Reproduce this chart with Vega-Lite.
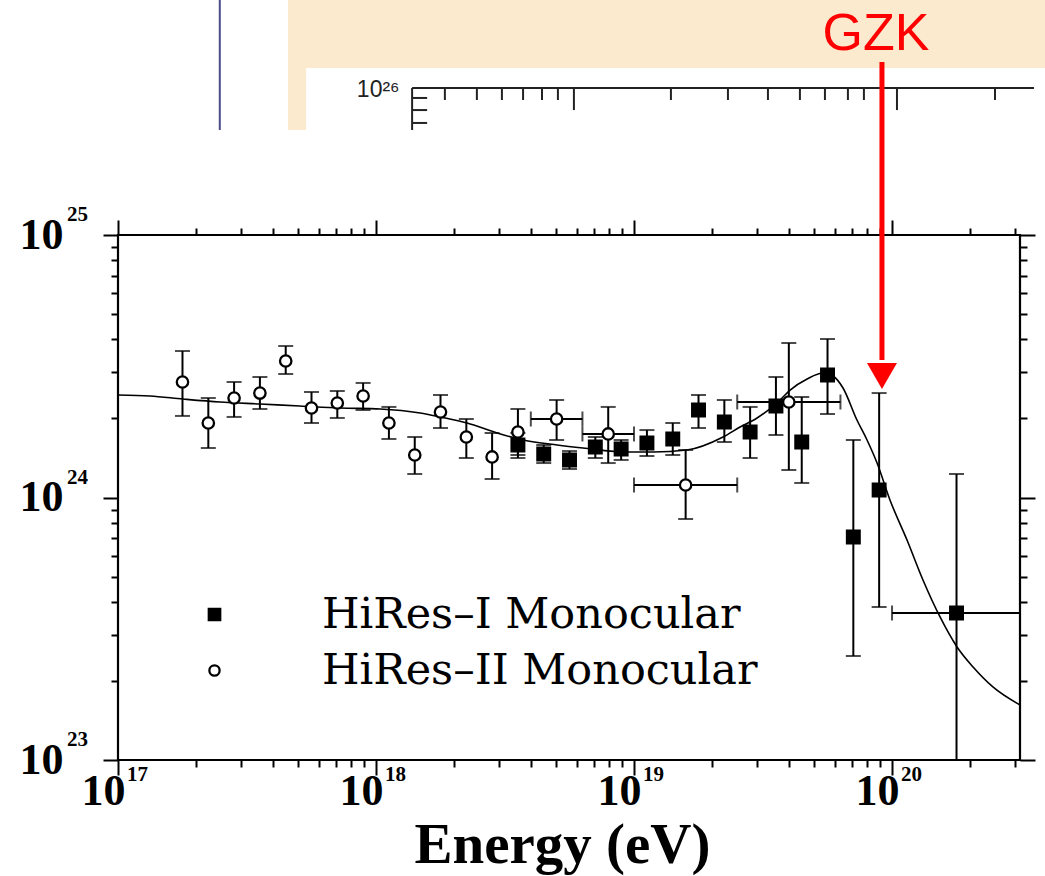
{
  "$schema": "https://vega.github.io/schema/vega-lite/v6.json",
  "width": 902,
  "height": 525,
  "autosize": {"type": "none"},
  "padding": {"left": 118, "top": 235, "right": 25, "bottom": 116},
  "background": "white",
  "datasets": {
    "points": [
      {"series": "HiRes–I Monocular", "E": 3.548e18, "J": 1.585e24, "lo": 1.414e24, "hi": 1.761e24},
      {"series": "HiRes–I Monocular", "E": 4.467e18, "J": 1.465e24, "lo": 1.353e24, "hi": 1.585e24},
      {"series": "HiRes–I Monocular", "E": 5.623e18, "J": 1.390e24, "lo": 1.284e24, "hi": 1.503e24},
      {"series": "HiRes–I Monocular", "E": 7.079e18, "J": 1.557e24, "lo": 1.414e24, "hi": 1.700e24},
      {"series": "HiRes–I Monocular", "E": 8.913e18, "J": 1.530e24, "lo": 1.390e24, "hi": 1.656e24},
      {"series": "HiRes–I Monocular", "E": 1.122e19, "J": 1.613e24, "lo": 1.439e24, "hi": 1.807e24},
      {"series": "HiRes–I Monocular", "E": 1.413e19, "J": 1.671e24, "lo": 1.452e24, "hi": 1.922e24},
      {"series": "HiRes–I Monocular", "E": 1.778e19, "J": 2.154e24, "lo": 1.840e24, "hi": 2.457e24},
      {"series": "HiRes–I Monocular", "E": 2.239e19, "J": 1.939e24, "lo": 1.627e24, "hi": 2.352e24},
      {"series": "HiRes–I Monocular", "E": 2.818e19, "J": 1.776e24, "lo": 1.414e24, "hi": 2.213e24},
      {"series": "HiRes–I Monocular", "E": 3.548e19, "J": 2.232e24, "lo": 1.730e24, "hi": 2.878e24},
      {"series": "HiRes–I Monocular", "E": 4.467e19, "J": 1.627e24, "lo": 1.136e24, "hi": 2.415e24},
      {"series": "HiRes–I Monocular", "E": 5.623e19, "J": 2.929e24, "lo": 2.080e24, "hi": 4.016e24},
      {"series": "HiRes–I Monocular", "E": 7.079e19, "J": 7.071e23, "lo": 2.490e23, "hi": 1.656e24},
      {"series": "HiRes–I Monocular", "E": 8.913e19, "J": 1.068e24, "lo": 3.827e23, "hi": 2.500e24},
      {"series": "HiRes–I Monocular", "E": 1.778e20, "J": 3.631e23, "lo": 1.0e23, "hi": 1.229e24, "xlo": 1.0e20, "xhi": 3.133e20},
      {"series": "HiRes–II Monocular", "E": 1.778e17, "J": 2.754e24, "lo": 2.045e24, "hi": 3.614e24},
      {"series": "HiRes–II Monocular", "E": 2.239e17, "J": 1.922e24, "lo": 1.544e24, "hi": 2.393e24},
      {"series": "HiRes–II Monocular", "E": 2.818e17, "J": 2.393e24, "lo": 2.027e24, "hi": 2.754e24},
      {"series": "HiRes–II Monocular", "E": 3.548e17, "J": 2.500e24, "lo": 2.174e24, "hi": 2.878e24},
      {"series": "HiRes–II Monocular", "E": 4.467e17, "J": 3.311e24, "lo": 2.954e24, "hi": 3.776e24},
      {"series": "HiRes–II Monocular", "E": 5.623e17, "J": 2.193e24, "lo": 1.922e24, "hi": 2.523e24},
      {"series": "HiRes–II Monocular", "E": 7.079e17, "J": 2.291e24, "lo": 2.009e24, "hi": 2.545e24},
      {"series": "HiRes–II Monocular", "E": 8.913e17, "J": 2.436e24, "lo": 2.154e24, "hi": 2.731e24},
      {"series": "HiRes–II Monocular", "E": 1.122e18, "J": 1.922e24, "lo": 1.671e24, "hi": 2.213e24},
      {"series": "HiRes–II Monocular", "E": 1.413e18, "J": 1.452e24, "lo": 1.229e24, "hi": 1.700e24},
      {"series": "HiRes–II Monocular", "E": 1.778e18, "J": 2.117e24, "lo": 1.840e24, "hi": 2.457e24},
      {"series": "HiRes–II Monocular", "E": 2.239e18, "J": 1.700e24, "lo": 1.414e24, "hi": 1.991e24},
      {"series": "HiRes–II Monocular", "E": 2.818e18, "J": 1.427e24, "lo": 1.176e24, "hi": 1.761e24},
      {"series": "HiRes–II Monocular", "E": 3.548e18, "J": 1.776e24, "lo": 1.452e24, "hi": 2.174e24},
      {"series": "HiRes–II Monocular", "E": 5.012e18, "J": 1.991e24, "lo": 1.656e24, "hi": 2.352e24, "xlo": 3.981e18, "xhi": 6.310e18},
      {"series": "HiRes–II Monocular", "E": 7.943e18, "J": 1.746e24, "lo": 1.353e24, "hi": 2.213e24, "xlo": 6.310e18, "xhi": 1.0e19},
      {"series": "HiRes–II Monocular", "E": 1.585e19, "J": 1.116e24, "lo": 8.283e23, "hi": 1.517e24, "xlo": 1.0e19, "xhi": 2.512e19},
      {"series": "HiRes–II Monocular", "E": 3.981e19, "J": 2.311e24, "lo": 1.273e24, "hi": 3.878e24, "xlo": 2.512e19, "xhi": 6.310e19}
    ],
    "curve": [
      {"E": 1.000e17, "J": 2.457e24},
      {"E": 1.330e17, "J": 2.436e24},
      {"E": 1.786e17, "J": 2.372e24},
      {"E": 2.483e17, "J": 2.311e24},
      {"E": 3.548e17, "J": 2.271e24},
      {"E": 5.070e17, "J": 2.232e24},
      {"E": 7.244e17, "J": 2.193e24},
      {"E": 1.038e18, "J": 2.174e24},
      {"E": 1.483e18, "J": 2.098e24},
      {"E": 1.770e18, "J": 2.027e24},
      {"E": 2.254e18, "J": 1.922e24},
      {"E": 2.944e18, "J": 1.761e24},
      {"E": 3.715e18, "J": 1.656e24},
      {"E": 5.035e18, "J": 1.585e24},
      {"E": 6.339e18, "J": 1.544e24},
      {"E": 9.397e18, "J": 1.490e24},
      {"E": 1.186e19, "J": 1.490e24},
      {"E": 1.603e19, "J": 1.517e24},
      {"E": 2.213e19, "J": 1.700e24},
      {"E": 2.576e19, "J": 1.856e24},
      {"E": 2.999e19, "J": 2.009e24},
      {"E": 3.581e19, "J": 2.291e24},
      {"E": 4.027e19, "J": 2.567e24},
      {"E": 4.688e19, "J": 2.828e24},
      {"E": 5.408e19, "J": 2.980e24},
      {"E": 5.902e19, "J": 2.903e24},
      {"E": 6.457e19, "J": 2.613e24},
      {"E": 7.311e19, "J": 1.973e24},
      {"E": 8.000e19, "J": 1.656e24},
      {"E": 8.750e19, "J": 1.353e24},
      {"E": 9.817e19, "J": 9.784e23},
      {"E": 1.143e20, "J": 6.888e23},
      {"E": 1.318e20, "J": 4.850e23},
      {"E": 1.535e20, "J": 3.506e23},
      {"E": 1.786e20, "J": 2.695e23},
      {"E": 2.061e20, "J": 2.261e23},
      {"E": 2.460e20, "J": 1.898e23},
      {"E": 3.133e20, "J": 1.620e23}
    ],
    "gzk": [
      {"E": 9.14e19, "top": 4.56e25, "base": 3.341e24, "head": 2.903e24, "ty": 5.07e25, "label": "GZK"}
    ],
    "xexp": [
      {"E": 1e17, "e": "17"}, {"E": 1e18, "e": "18"}, {"E": 1e19, "e": "19"}, {"E": 1e20, "e": "20"}
    ],
    "yexp": [
      {"J": 1e23, "e": "23"}, {"J": 1e24, "e": "24"}, {"J": 1e25, "e": "25"}
    ],
    "slide": [
      {"part": "parchment", "x1": 4.56e17, "x2": 5e20, "y1": 2.512e25, "y2": 1e26},
      {"part": "panel", "x1": 5.36e17, "x2": 5e20, "y1": 2.512e25, "y2": 4.33e25}
    ],
    "slideLines": [
      {"x1": 2.48e17, "x2": 2.48e17, "y1": 2.512e25, "y2": 1e26, "c": "blue"},
      {"x1": 1.38e18, "x2": 3.55e20, "y1": 3.63e25, "y2": 3.63e25, "c": "frame"},
      {"x1": 1.38e18, "x2": 1.38e18, "y1": 2.512e25, "y2": 3.63e25, "c": "frame"},
      {"x1": 1.38e18, "x2": 1.578e18, "y1": 3.327e25, "y2": 3.327e25, "c": "frame"},
      {"x1": 1.38e18, "x2": 1.578e18, "y1": 2.992e25, "y2": 2.992e25, "c": "frame"},
      {"x1": 1.38e18, "x2": 1.578e18, "y1": 2.672e25, "y2": 2.672e25, "c": "frame"},
      {"x1": 1.849e18, "x2": 1.849e18, "y1": 3.268e25, "y2": 3.63e25, "c": "frame"},
      {"x1": 2.460e18, "x2": 2.460e18, "y1": 3.268e25, "y2": 3.63e25, "c": "frame"},
      {"x1": 3.076e18, "x2": 3.076e18, "y1": 3.268e25, "y2": 3.63e25, "c": "frame"},
      {"x1": 3.715e18, "x2": 3.715e18, "y1": 3.268e25, "y2": 3.63e25, "c": "frame"},
      {"x1": 4.399e18, "x2": 4.399e18, "y1": 3.268e25, "y2": 3.63e25, "c": "frame"},
      {"x1": 5.070e18, "x2": 5.070e18, "y1": 3.268e25, "y2": 3.63e25, "c": "frame"},
      {"x1": 5.848e18, "x2": 5.848e18, "y1": 2.992e25, "y2": 3.63e25, "c": "frame"},
      {"x1": 1.390e19, "x2": 1.390e19, "y1": 3.268e25, "y2": 3.63e25, "c": "frame"},
      {"x1": 2.312e19, "x2": 2.312e19, "y1": 3.268e25, "y2": 3.63e25, "c": "frame"},
      {"x1": 3.304e19, "x2": 3.304e19, "y1": 3.268e25, "y2": 3.63e25, "c": "frame"},
      {"x1": 4.395e19, "x2": 4.395e19, "y1": 3.268e25, "y2": 3.63e25, "c": "frame"},
      {"x1": 5.495e19, "x2": 5.495e19, "y1": 3.268e25, "y2": 3.63e25, "c": "frame"},
      {"x1": 6.745e19, "x2": 6.745e19, "y1": 3.268e25, "y2": 3.63e25, "c": "frame"},
      {"x1": 7.780e19, "x2": 7.780e19, "y1": 3.268e25, "y2": 3.63e25, "c": "frame"},
      {"x1": 1.045e20, "x2": 1.045e20, "y1": 2.992e25, "y2": 3.63e25, "c": "frame"},
      {"x1": 2.506e20, "x2": 2.506e20, "y1": 3.268e25, "y2": 3.63e25, "c": "frame"}
    ],
    "slideText": [
      {"x": 8.43e17, "y": 3.36e25, "t": "10²⁶"}
    ]
  },
  "resolve": {"axis": {"x": "independent", "y": "independent"}},
  "layer": [
    {
      "data": {"name": "slide"},
      "mark": {"type": "rect"},
      "encoding": {
        "x": {"field": "x1", "type": "quantitative", "scale": {"type": "log", "domain": [1e17, 3.133e20], "nice": false}, "axis": null},
        "x2": {"field": "x2"},
        "y": {"field": "y1", "type": "quantitative", "scale": {"type": "log", "domain": [1e23, 1e25], "nice": false}, "axis": null},
        "y2": {"field": "y2"},
        "color": {"field": "part", "type": "nominal", "scale": {"domain": ["parchment", "panel"], "range": ["#fbeacd", "#ffffff"]}, "legend": null}
      }
    },
    {
      "data": {"name": "slideLines"},
      "mark": {"type": "rule", "strokeWidth": 2},
      "encoding": {
        "x": {"field": "x1", "type": "quantitative", "scale": {"type": "log", "domain": [1e17, 3.133e20], "nice": false}, "axis": null},
        "x2": {"field": "x2"},
        "y": {"field": "y1", "type": "quantitative", "scale": {"type": "log", "domain": [1e23, 1e25], "nice": false}, "axis": null},
        "y2": {"field": "y2"},
        "stroke": {"field": "c", "type": "nominal", "scale": {"domain": ["blue", "frame"], "range": ["#4a4a8c", "#222222"]}, "legend": null}
      }
    },
    {
      "data": {"name": "slideText"},
      "mark": {"type": "text", "font": "Liberation Sans", "fontSize": 23, "align": "left", "baseline": "alphabetic", "color": "#222222"},
      "encoding": {
        "x": {"field": "x", "type": "quantitative", "scale": {"type": "log", "domain": [1e17, 3.133e20], "nice": false}, "axis": null},
        "y": {"field": "y", "type": "quantitative", "scale": {"type": "log", "domain": [1e23, 1e25], "nice": false}, "axis": null},
        "text": {"field": "t"}
      }
    },
    {
      "data": {"name": "curve"},
      "mark": {"type": "line", "color": "black", "strokeWidth": 1.6, "interpolate": "monotone"},
      "encoding": {
        "x": {"field": "E", "type": "quantitative", "scale": {"type": "log", "domain": [1e17, 3.133e20], "nice": false},
          "axis": {"orient": "bottom", "values": [1e17, 1e18, 1e19, 1e20], "tickSize": 15,
            "labelExpr": "'10'", "labelOffset": -15,
            "labelFont": "Liberation Serif", "labelFontSize": 44, "labelFontWeight": "bold", "labelColor": "black", "labelPadding": -6,
            "title": "Energy (eV)", "titleFont": "Liberation Serif", "titleFontSize": 57, "titleFontWeight": "bold", "titleColor": "black",
            "titleY": 102, "titleX": 444, "titleAlign": "center", "titleBaseline": "alphabetic"}},
        "y": {"field": "J", "type": "quantitative", "scale": {"type": "log", "domain": [1e23, 1e25], "nice": false},
          "axis": {"orient": "left", "values": [1e23, 1e24, 1e25], "tickSize": 15,
            "labelExpr": "'10'",
            "labelFont": "Liberation Serif", "labelFontSize": 44, "labelFontWeight": "bold", "labelColor": "black", "labelPadding": 40,
            "title": null}}
      }
    },
    {
      "data": {"name": "xexp"},
      "mark": {"type": "text", "font": "Liberation Serif", "fontWeight": "bold", "fontSize": 21, "align": "left", "baseline": "alphabetic", "dx": 9, "dy": 21, "color": "black"},
      "encoding": {
        "x": {"field": "E", "type": "quantitative", "scale": {"type": "log", "domain": [1e17, 3.133e20], "nice": false}, "axis": null},
        "y": {"datum": 1e23, "type": "quantitative", "scale": {"type": "log", "domain": [1e23, 1e25], "nice": false}, "axis": null},
        "text": {"field": "e"}
      }
    },
    {
      "data": {"name": "yexp"},
      "mark": {"type": "text", "font": "Liberation Serif", "fontWeight": "bold", "fontSize": 21, "align": "left", "baseline": "alphabetic", "dx": -51, "dy": -14, "color": "black"},
      "encoding": {
        "x": {"datum": 1e17, "type": "quantitative", "scale": {"type": "log", "domain": [1e17, 3.133e20], "nice": false}, "axis": null},
        "y": {"field": "J", "type": "quantitative", "scale": {"type": "log", "domain": [1e23, 1e25], "nice": false}, "axis": null},
        "text": {"field": "e"}
      }
    },
    {
      "data": {"name": "points"},
      "mark": {"type": "errorbar", "color": "black", "ticks": {"size": 15, "thickness": 2}, "rule": {"strokeWidth": 2}},
      "encoding": {
        "x": {"field": "E", "type": "quantitative", "scale": {"type": "log", "domain": [1e17, 3.133e20], "nice": false}, "axis": null},
        "y": {"field": "lo", "type": "quantitative", "scale": {"type": "log", "domain": [1e23, 1e25], "nice": false}, "axis": null},
        "y2": {"field": "hi"}
      }
    },
    {
      "data": {"name": "points"},
      "transform": [{"filter": "isValid(datum.xlo)"}],
      "mark": {"type": "errorbar", "color": "black", "ticks": {"size": 15, "thickness": 2}, "rule": {"strokeWidth": 2}},
      "encoding": {
        "y": {"field": "J", "type": "quantitative", "scale": {"type": "log", "domain": [1e23, 1e25], "nice": false}, "axis": null},
        "x": {"field": "xlo", "type": "quantitative", "scale": {"type": "log", "domain": [1e17, 3.133e20], "nice": false}, "axis": null},
        "x2": {"field": "xhi"}
      }
    },
    {
      "data": {"name": "points"},
      "mark": {"type": "point", "filled": true, "stroke": "black", "strokeWidth": 2.3, "size": 160, "opacity": 1},
      "encoding": {
        "x": {"field": "E", "type": "quantitative", "scale": {"type": "log", "domain": [1e17, 3.133e20], "nice": false},
          "axis": {"orient": "bottom", "values": [2e17, 3e17, 4e17, 5e17, 6e17, 7e17, 8e17, 9e17, 2e18, 3e18, 4e18, 5e18, 6e18, 7e18, 8e18, 9e18, 2e19, 3e19, 4e19, 5e19, 6e19, 7e19, 8e19, 9e19, 2e20, 3e20], "tickSize": 7, "labels": false, "title": null}},
        "y": {"field": "J", "type": "quantitative", "scale": {"type": "log", "domain": [1e23, 1e25], "nice": false},
          "axis": {"orient": "left", "values": [2e23, 3e23, 4e23, 5e23, 6e23, 7e23, 8e23, 9e23, 2e24, 3e24, 4e24, 5e24, 6e24, 7e24, 8e24, 9e24], "tickSize": 7, "labels": false, "title": null}},
        "shape": {"field": "series", "type": "nominal", "scale": {"domain": ["HiRes–I Monocular", "HiRes–II Monocular"], "range": ["M-1,-1H1V1H-1Z", "M0.9,0A0.9,0.9 0 1,1 -0.9,0A0.9,0.9 0 1,1 0.9,0Z"]},
          "legend": {"title": null, "encode": {"symbols": {"update": {
            "fill": {"signal": "datum.value === 'HiRes–I Monocular' ? '#000000' : '#ffffff'"},
            "fillOpacity": {"value": 1},
            "stroke": {"value": "#000000"},
            "strokeWidth": {"value": 2.3},
            "opacity": {"value": 1}}}}}},
        "fill": {"field": "series", "type": "nominal", "scale": {"domain": ["HiRes–I Monocular", "HiRes–II Monocular"], "range": ["#000000", "#ffffff"]}, "legend": null}
      }
    },
    {
      "data": {"name": "gzk"},
      "mark": {"type": "rule", "color": "#ff0000", "strokeWidth": 5},
      "encoding": {
        "x": {"field": "E", "type": "quantitative", "scale": {"type": "log", "domain": [1e17, 3.133e20], "nice": false},
          "axis": {"orient": "top", "values": [1e17, 1e18, 1e19, 1e20], "tickSize": 15, "labels": false, "title": null}},
        "y": {"field": "top", "type": "quantitative", "scale": {"type": "log", "domain": [1e23, 1e25], "nice": false},
          "axis": {"orient": "right", "values": [1e23, 1e24, 1e25], "tickSize": 15, "labels": false, "title": null}},
        "y2": {"field": "base"}
      }
    },
    {
      "data": {"name": "gzk"},
      "mark": {"type": "point", "shape": "triangle-down", "filled": true, "color": "#ff0000", "size": 900, "opacity": 1},
      "encoding": {
        "x": {"field": "E", "type": "quantitative", "scale": {"type": "log", "domain": [1e17, 3.133e20], "nice": false},
          "axis": {"orient": "top", "values": [2e17, 3e17, 4e17, 5e17, 6e17, 7e17, 8e17, 9e17, 2e18, 3e18, 4e18, 5e18, 6e18, 7e18, 8e18, 9e18, 2e19, 3e19, 4e19, 5e19, 6e19, 7e19, 8e19, 9e19, 2e20, 3e20], "tickSize": 7, "labels": false, "title": null}},
        "y": {"field": "head", "type": "quantitative", "scale": {"type": "log", "domain": [1e23, 1e25], "nice": false},
          "axis": {"orient": "right", "values": [2e23, 3e23, 4e23, 5e23, 6e23, 7e23, 8e23, 9e23, 2e24, 3e24, 4e24, 5e24, 6e24, 7e24, 8e24, 9e24], "tickSize": 7, "labels": false, "title": null}}
      }
    },
    {
      "data": {"name": "gzk"},
      "mark": {"type": "text", "font": "Liberation Sans", "fontSize": 52, "color": "#ff0000", "align": "center", "baseline": "alphabetic", "dx": -6},
      "encoding": {
        "x": {"field": "E", "type": "quantitative", "scale": {"type": "log", "domain": [1e17, 3.133e20], "nice": false}, "axis": null},
        "y": {"field": "ty", "type": "quantitative", "scale": {"type": "log", "domain": [1e23, 1e25], "nice": false}, "axis": null},
        "text": {"field": "label"}
      }
    }
  ],
  "config": {
    "view": {"stroke": "black", "strokeWidth": 2.2},
    "axis": {"domain": false, "grid": false, "tickColor": "black", "tickWidth": 2, "labelFlush": false, "labelOverlap": false, "labelBound": false},
    "legend": {
      "orient": "none", "legendX": 75, "legendY": 358, "padding": 0, "offset": 0,
      "labelFont": "DejaVu Serif", "labelFontSize": 43, "labelColor": "black", "labelLimit": 700, "labelOffset": 86,
      "rowPadding": 12, "symbolSize": 130, "symbolStrokeWidth": 2.3
    }
  }
}
